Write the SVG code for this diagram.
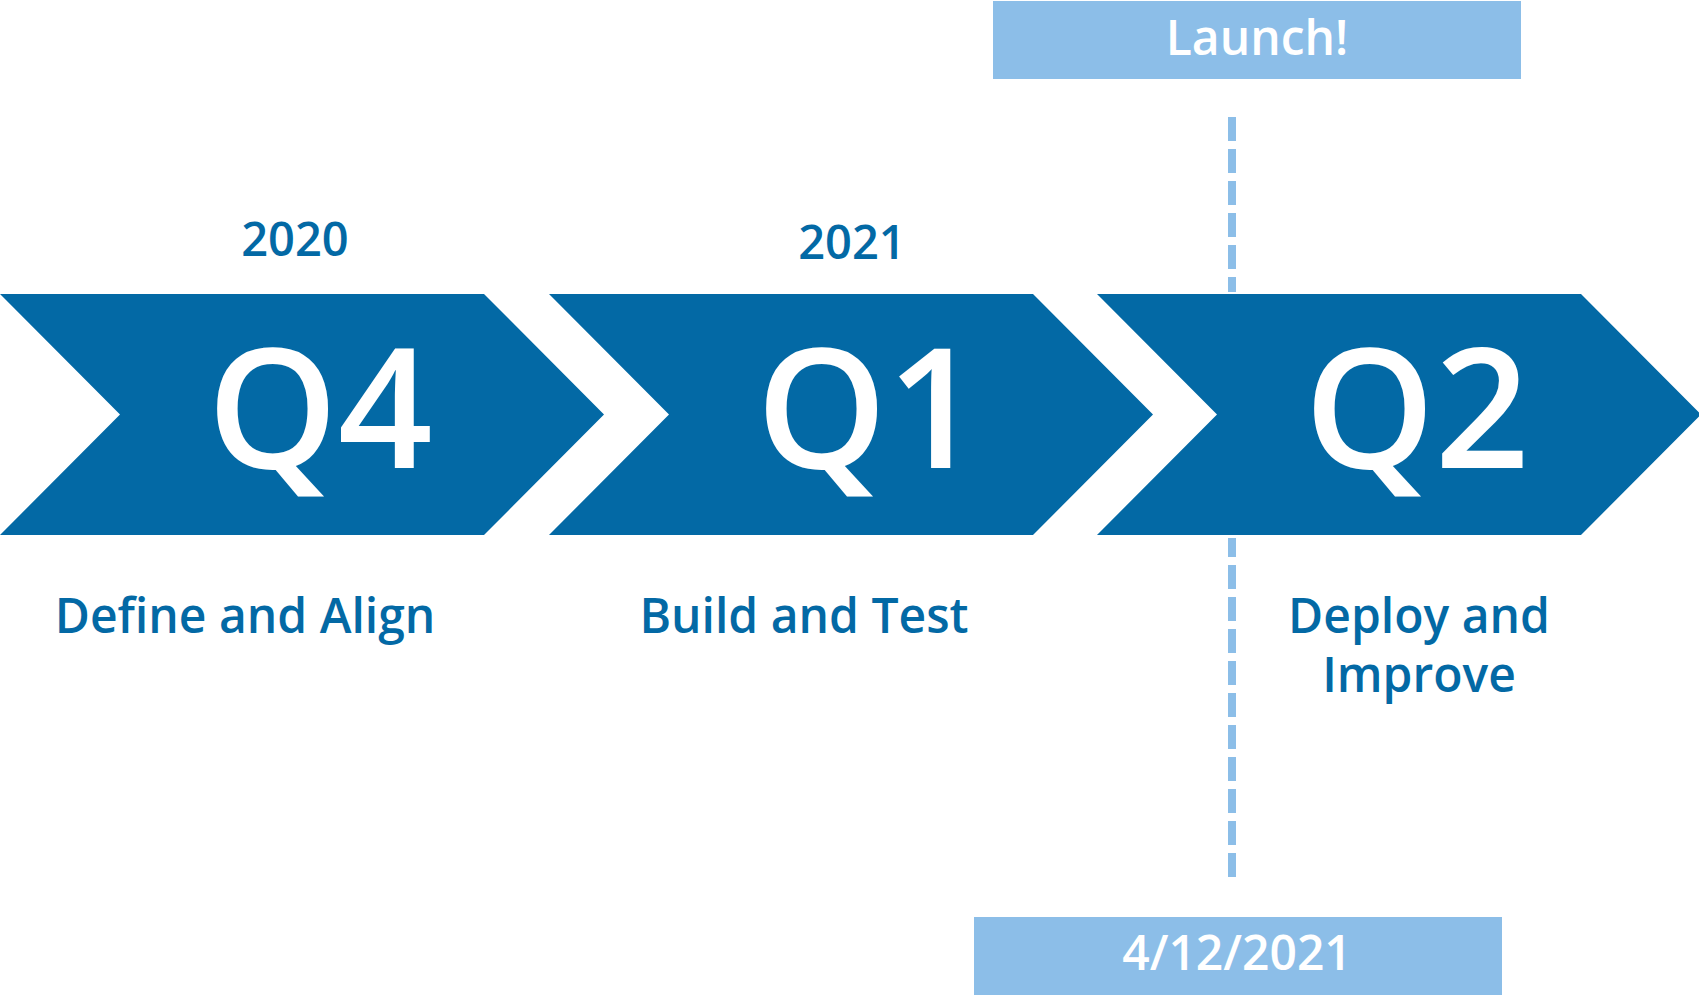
<svg xmlns="http://www.w3.org/2000/svg" width="1699" height="995" viewBox="0 0 1699 995">
  <style>
    .chev { fill: #0369a5; }
    .q { font-family: "Open Sans", "Liberation Sans", sans-serif; font-size: 166px; font-weight: 600; fill: #ffffff; text-anchor: middle; }
    .year { font-family: "Open Sans", "Liberation Sans", sans-serif; font-size: 47px; font-weight: 600; fill: #0369a5; text-anchor: middle; }
    .label { font-family: "Open Sans", "Liberation Sans", sans-serif; font-size: 48px; font-weight: 600; fill: #0369a5; text-anchor: middle; }
    .tag { fill: #8cbee8; }
    .tagtext { font-family: "Open Sans", "Liberation Sans", sans-serif; font-size: 48px; font-weight: 600; fill: #ffffff; text-anchor: middle; }
    .marker { stroke: #8cbee8; stroke-width: 8; stroke-dasharray: 24 8; fill: none; }
  </style>
  <defs>
    <polygon id="chevron" points="0,294 484,294 604,414.5 484,535 0,535 120,414.5"/>
  </defs>

  <!-- launch marker line (drawn under the Q2 arrow) -->
  <g id="connectors">
    <line class="marker" x1="1232" y1="117" x2="1232" y2="292"/>
    <line class="marker" x1="1232" y1="538" x2="1232" y2="877" stroke-dashoffset="5"/>
  </g>

  <g id="q4">
    <use href="#chevron" class="chev"/>
    <text class="q" x="320" y="468">Q4</text>
  </g>
  <g id="q1">
    <use href="#chevron" class="chev" x="549"/>
    <text class="q" x="869" y="468">Q1</text>
  </g>
  <g id="q2">
    <use href="#chevron" class="chev" x="1097"/>
    <text class="q" x="1417" y="468">Q2</text>
  </g>

  <g id="year-2020"><text class="year" x="295" y="256">2020</text></g>
  <g id="year-2021"><text class="year" x="852" y="259">2021</text></g>

  <g id="label-q4"><text class="label" x="245" y="633">Define and Align</text></g>
  <g id="label-q1"><text class="label" x="804" y="633">Build and Test</text></g>
  <g id="label-q2">
    <text class="label" x="1419" y="633">Deploy and</text>
    <text class="label" x="1419" y="692">Improve</text>
  </g>

  <g id="launch">
    <rect class="tag" x="993" y="1" width="528" height="78"/>
    <text class="tagtext" x="1257" y="55">Launch!</text>
  </g>
  <g id="launch-date">
    <rect class="tag" x="974" y="917" width="528" height="78"/>
    <text class="tagtext" x="1237" y="970" font-size="47">4/12/2021</text>
  </g>
</svg>
